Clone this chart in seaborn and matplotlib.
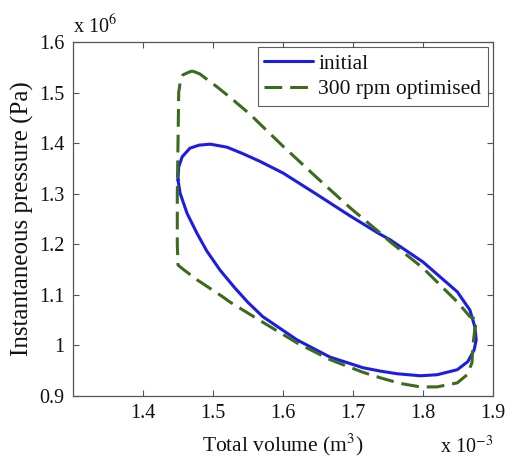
import matplotlib
matplotlib.use("Agg")
import matplotlib.pyplot as plt
import seaborn as sns
import pandas as pd

# Units: volume in 1e-3 m^3, pressure in 1e6 Pa
initial_vol = [1.450, 1.451, 1.456, 1.467, 1.480, 1.496, 1.520, 1.543, 1.567, 1.600,
               1.649, 1.696, 1.736, 1.753, 1.800, 1.849, 1.867, 1.874, 1.876, 1.873,
               1.864, 1.849, 1.820, 1.796, 1.763, 1.740, 1.714, 1.667, 1.620, 1.571,
               1.550, 1.531, 1.510, 1.491, 1.477, 1.463, 1.453, 1.450]
initial_p = [1.327, 1.353, 1.373, 1.390, 1.396, 1.398, 1.392, 1.379, 1.364, 1.341,
             1.298, 1.256, 1.222, 1.209, 1.165, 1.106, 1.070, 1.037, 1.011, 0.991,
             0.968, 0.952, 0.942, 0.940, 0.944, 0.949, 0.956, 0.977, 1.011, 1.057,
             1.085, 1.114, 1.149, 1.187, 1.222, 1.261, 1.301, 1.327]

opt_vol = [1.470, 1.481, 1.506, 1.524, 1.553, 1.567, 1.600, 1.649, 1.696, 1.734,
           1.753, 1.800, 1.849, 1.867, 1.877, 1.874, 1.871, 1.870, 1.863, 1.849,
           1.820, 1.796, 1.767, 1.739, 1.714, 1.667, 1.620, 1.571, 1.524, 1.514,
           1.477, 1.456, 1.450, 1.449, 1.449, 1.450, 1.451, 1.453, 1.457, 1.470]
opt_p = [1.543, 1.537, 1.511, 1.491, 1.457, 1.438, 1.394, 1.331, 1.272, 1.228,
         1.205, 1.153, 1.086, 1.057, 1.051, 1.031, 0.997, 0.966, 0.942, 0.926,
         0.918, 0.918, 0.925, 0.936, 0.947, 0.972, 1.005, 1.046, 1.086, 1.096,
         1.130, 1.152, 1.159, 1.200, 1.300, 1.400, 1.500, 1.519, 1.535, 1.543]

x_ticks = [1.4, 1.5, 1.6, 1.7, 1.8, 1.9]
y_ticks = [0.9, 1.0, 1.1, 1.2, 1.3, 1.4, 1.5, 1.6]
y_tick_labels = ["0.9", "1", "1.1", "1.2", "1.3", "1.4", "1.5", "1.6"]

sns.set_theme(style="white")
plt.rcParams['font.family'] = ['Liberation Serif', 'DejaVu Serif']
plt.rcParams['mathtext.fontset'] = 'stix'

fig = plt.figure(figsize=(5.15, 4.58), dpi=100)
ax = fig.add_axes([73/515, 1-396/458, 420/515, 354/458])

df_i = pd.DataFrame({"v": initial_vol, "p": initial_p})
df_o = pd.DataFrame({"v": opt_vol, "p": opt_p})

sns.lineplot(data=df_i, x="v", y="p", sort=False, estimator=None, ax=ax,
             color="#1c1ce6", linewidth=2.2, label="initial")
sns.lineplot(data=df_o, x="v", y="p", sort=False, estimator=None, ax=ax,
             color="#3b6b1c", linewidth=2.2, dashes=False, label="300 rpm optimised")
ax.lines[1].set_dashes([5.8, 2.6])

ax.set_xlim(1.3, 1.9)
ax.set_ylim(0.9, 1.6)
ax.set_xticks(x_ticks)
ax.set_xticklabels([f"{t:.1f}" for t in x_ticks])
ax.set_yticks(y_ticks)
ax.set_yticklabels(y_tick_labels)

for s in ax.spines.values():
    s.set_color("#555555")
    s.set_linewidth(0.9)
    s.set_visible(True)
ax.tick_params(direction="in", length=4, width=0.8, color="#555555",
               top=True, right=True, bottom=True, left=True,
               labelsize=14.5, labelcolor="#111111", pad=6)

ax.set_xlabel("Total volume (m$^3$)", fontsize=15.5, color="#111111", labelpad=6)
ax.set_ylabel("Instantaneous pressure (Pa)", fontsize=18, color="#111111", labelpad=4)

ax.text(0.0, 1.012, "x 10$^{6}$", transform=ax.transAxes, ha="left", va="bottom",
        fontsize=14.5, color="#111111")
ax.text(1.0, -0.112, "x 10$^{-3}$", transform=ax.transAxes, ha="right", va="top",
        fontsize=14.5, color="#111111")

leg = ax.legend(loc="upper right", fontsize=15.5, frameon=True, fancybox=False,
                handlelength=2.25, borderaxespad=0.25, borderpad=0.3,
                labelspacing=0.25, handletextpad=0.25)
leg.get_frame().set_edgecolor("#333333")
leg.get_frame().set_linewidth(0.8)
for t in leg.get_texts():
    t.set_color("#111111")

fig.savefig("out.png", dpi=100)
